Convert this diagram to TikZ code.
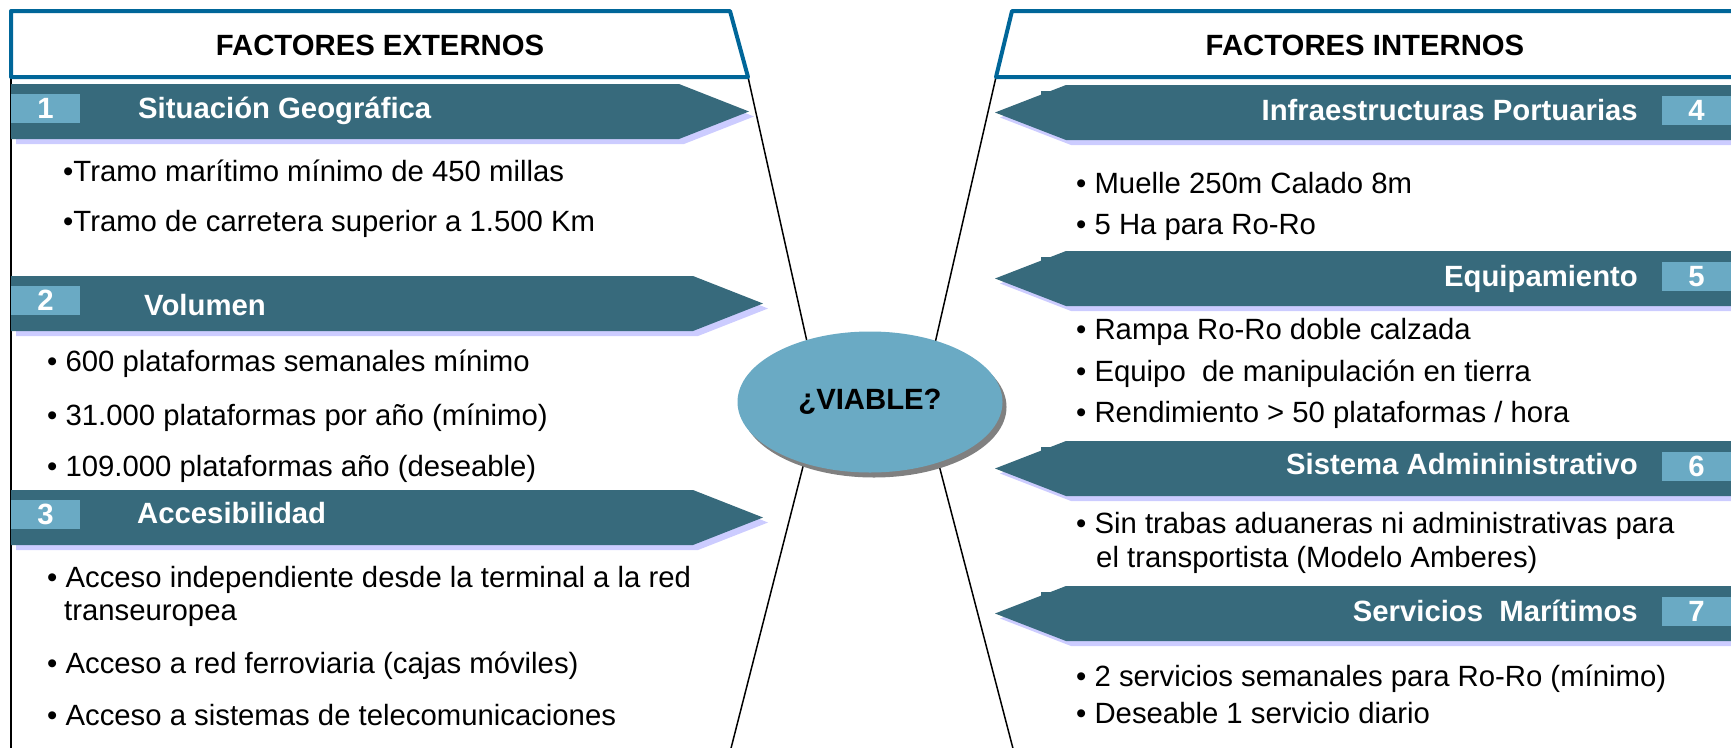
\documentclass[tikz,border=0pt]{standalone}
\usepackage{fontspec}
\setmainfont{Liberation Sans}
\usetikzlibrary{shapes.geometric,shadows}

\definecolor{banteal}{HTML}{376A7C}
\definecolor{lightteal}{HTML}{6AAAC4}
\definecolor{lilac}{HTML}{CCCCFF}
\definecolor{headblue}{HTML}{006699}

\tikzset{
  banner/.style={fill=banteal},
  bshadow/.style={fill=lilac},
  numbox/.style={fill=lightteal},
  head/.style={draw=headblue, line width=4pt, fill=white, line join=round},
  bantitle/.style={text=white, font=\bfseries\fontsize{29.3}{34}\selectfont, inner sep=0pt},
  item/.style={font=\fontsize{29.3}{34}\selectfont, inner sep=0pt, anchor=base west},
  spoke/.style={line width=1.5pt}
}

\begin{document}
\begin{tikzpicture}[x=1pt, y=-1pt]
\path[use as bounding box, clip] (0,0) rectangle (1731,747);

\coordinate (lcorner) at (748,77);
\coordinate (rcorner) at (996,77);
\coordinate (lhub) at (820,400);
\coordinate (rhub) at (922,400);
\coordinate (lfoot) at (728,760);
\coordinate (rfoot) at (1016,760);
\coordinate (ltop) at (11,77);
\coordinate (lbot) at (11,760);

\draw[spoke] (ltop) -- (lbot);
\draw[spoke] (lcorner) -- (lhub) -- (lfoot);
\draw[spoke] (rcorner) -- (rhub) -- (rfoot);

\filldraw[head] (11,11) -- (730,11) -- (lcorner) -- (ltop) -- cycle;
\filldraw[head] (1012,11) -- (1745,11) -- (1745,77) -- (rcorner) -- cycle;
\node[bantitle, text=black] (ext) at (380,45) {FACTORES EXTERNOS};
\node[bantitle, text=black] (int) at (1365,45) {FACTORES INTERNOS};

\foreach \n/\y/\tip/\tx/\ty/\ttl in {1/84/749/138/118/Situación Geográfica, 2/276/763/144/315/Volumen, 3/490/763/137/523/Accesibilidad}{
  \fill[bshadow] (16,\y+5) -- (\tip-65,\y+5) -- (\tip+5,\y+32.5) -- (\tip-65,\y+60) -- (16,\y+60) -- cycle;
  \fill[banner] (11,\y) -- (\tip-70,\y) -- (\tip,\y+27.5) -- (\tip-70,\y+55) -- (11,\y+55) -- cycle;
  \fill[numbox] (11,\y+10) rectangle (80,\y+39);
  \node[bantitle] (num\n) at (45.5,\y+24.5) {\n};
  \node[bantitle, anchor=base west] (ttl\n) at (\tx,\ty) {\ttl};
}

\foreach \n/\y/\ty/\ttl in {4/85/120/Infraestructuras Portuarias, 5/251/286/Equipamiento, 6/441/474/Sistema Admininistrativo, 7/586/621/Servicios\ \ Marítimos}{
  \fill[bshadow] (1740,\y+5) -- (1071,\y+5) -- (1000,\y+32.5) -- (1071,\y+60) -- (1740,\y+60) -- cycle;
  \fill[banner] (1740,\y) -- (1066,\y) -- (995,\y+27.5) -- (1066,\y+55) -- (1740,\y+55) -- cycle;
  \fill[banner] (1041,\y+6) rectangle (1063,\y+12);
  \fill[numbox] (1662,\y+11) rectangle (1731,\y+40);
  \node[bantitle] (num\n) at (1696.5,\y+25.5) {\n};
  \node[bantitle, anchor=base east] (ttl\n) at (1638,\ty) {\ttl};
}

\node[item] (g1a) at (63,181) {•Tramo marítimo mínimo de 450 millas};
\node[item] (g1b) at (63,231) {•Tramo de carretera superior a 1.500 Km};
\node[item] (g2a) at (47,371) {• 600 plataformas semanales mínimo};
\node[item] (g2b) at (47,425) {• 31.000 plataformas por año (mínimo)};
\node[item] (g2c) at (47,476) {• 109.000 plataformas año (deseable)};
\node[item] (g3a) at (47,587) {• Acceso independiente desde la terminal a la red};
\node[item] (g3a2) at (64,620) {transeuropea};
\node[item] (g3b) at (47,673) {• Acceso a red ferroviaria (cajas móviles)};
\node[item] (g3c) at (47,725) {• Acceso a sistemas de telecomunicaciones};

\node[item] (g4a) at (1076,193) {• Muelle 250m Calado 8m};
\node[item] (g4b) at (1076,234) {• 5 Ha para Ro-Ro};
\node[item] (g5a) at (1076,339) {• Rampa Ro-Ro doble calzada};
\node[item] (g5b) at (1076,381) {• Equipo\ \ de manipulación en tierra};
\node[item] (g5c) at (1076,422) {• Rendimiento > 50 plataformas / hora};
\node[item] (g6a) at (1076,533) {• Sin trabas aduaneras ni administrativas para};
\node[item] (g6b) at (1096,567) {el transportista (Modelo Amberes)};
\node[item] (g7a) at (1076,686) {• 2 servicios semanales para Ro-Ro (mínimo)};
\node[item] (g7b) at (1076,723) {• Deseable 1 servicio diario};

\node[ellipse, fill=lightteal, minimum width=265pt, minimum height=141pt, inner sep=0pt,
  drop shadow={shadow xshift=4pt, shadow yshift=-5pt, fill=gray, opacity=1},
  font=\bfseries\fontsize{29.3}{34}\selectfont] (viable) at (870,402) {¿VIABLE?};
\end{tikzpicture}
\end{document}
